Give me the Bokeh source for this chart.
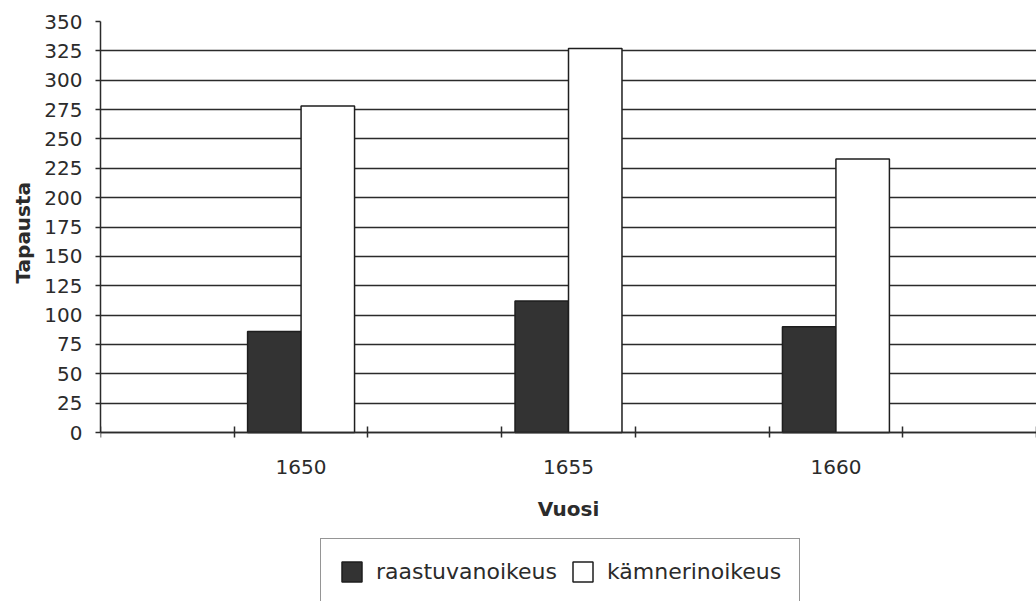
from bokeh.plotting import figure
from bokeh.models import Range1d, FixedTicker, Legend, LegendItem, ColumnDataSource, Title
from bokeh.embed import file_html
from bokeh.resources import INLINE

# ---- data ----
slots = ["", "1650", "", "1655", "", "1660", ""]   # category slots on the x axis
years = ["1650", "1655", "1660"]
raastuvanoikeus = [86, 112, 90]
kamnerinoikeus = [278, 327, 233]
y_ticks = list(range(0, 351, 25))
series_names = ["raastuvanoikeus", "kämnerinoikeus"]
y_title = "Tapausta"
x_title = "Vuosi"

FONT = "DejaVu Sans"
INK = "#2b2b2b"

centers = [slots.index(y) + 0.5 for y in years]
src = ColumnDataSource(dict(
    x1=[c - 0.2 for c in centers],
    x2=[c + 0.2 for c in centers],
    r=raastuvanoikeus,
    k=kamnerinoikeus,
))

# frame runs to the bottom of the canvas so the legend can sit below the axis
p = figure(width=1036, height=601, output_backend="svg", toolbar_location=None,
           x_range=Range1d(0, len(slots)), y_range=Range1d(-143.9, 350),
           min_border_left=100, min_border_right=0, min_border_top=21,
           min_border_bottom=0)
p.outline_line_color = None
p.background_fill_color = "white"
p.border_fill_color = "white"

r1 = p.vbar(x="x1", top="r", width=0.4, source=src, fill_color="#333333",
            line_color="#1e1e1e", line_width=1.5)
r2 = p.vbar(x="x2", top="k", width=0.4, source=src, fill_color="white",
            line_color="#1e1e1e", line_width=1.5)

# x axis (drawn at y = 0 inside the frame)
xa = p.xaxis[0]
xa.fixed_location = 0
xa.ticker = FixedTicker(ticks=centers, minor_ticks=list(range(len(slots) + 1)))
xa.major_label_overrides = {c: y for c, y in zip(centers, years)}
xa.major_tick_line_color = None
xa.major_tick_out = 0
xa.major_tick_in = 0
xa.minor_tick_line_color = INK
xa.minor_tick_line_width = 1.5
xa.minor_tick_in = 6
xa.minor_tick_out = 5
xa.axis_line_color = INK
xa.axis_line_width = 1.5
xa.major_label_standoff = 22
xa.major_label_text_font = FONT
xa.major_label_text_font_size = "20px"
xa.major_label_text_color = INK
xa.axis_label = x_title
xa.axis_label_text_font = FONT
xa.axis_label_text_font_style = "bold"
xa.axis_label_text_font_size = "20px"
xa.axis_label_text_color = INK
xa.axis_label_standoff = 20

# y axis
ya = p.yaxis[0]
ya.bounds = (0, 350)
ya.ticker = FixedTicker(ticks=y_ticks)
ya.minor_tick_line_color = None
ya.major_tick_in = 0
ya.major_tick_out = 5
ya.major_tick_line_color = INK
ya.major_tick_line_width = 1.5
ya.axis_line_color = INK
ya.axis_line_width = 1.5
ya.major_label_standoff = 13
ya.major_label_text_font = FONT
ya.major_label_text_font_size = "20px"
ya.major_label_text_color = INK

# y axis title, placed beside the 0..350 part of the axis
yt = Title(text=y_title, align="left", vertical_align="top", offset=318,
           standoff=10, text_font=FONT, text_font_style="bold",
           text_font_size="20px", text_color=INK)
p.add_layout(yt, "left")

p.xgrid.grid_line_color = None
p.ygrid.grid_line_color = INK
p.ygrid.grid_line_width = 1.5
p.ygrid.ticker = FixedTicker(ticks=y_ticks)

legend = Legend(items=[LegendItem(label=series_names[0], renderers=[r1]),
                       LegendItem(label=series_names[1], renderers=[r2])],
                orientation="horizontal", location=(220, -3),
                label_text_font=FONT, label_text_font_size="22px",
                label_text_color=INK, glyph_width=25, glyph_height=25,
                label_height=28, label_standoff=12, spacing=13, padding=18,
                margin=0, border_line_color=INK, border_line_width=1.5,
                background_fill_color="white", background_fill_alpha=1)
p.add_layout(legend, "center")

open("out.html", "w").write(file_html(p, INLINE))
